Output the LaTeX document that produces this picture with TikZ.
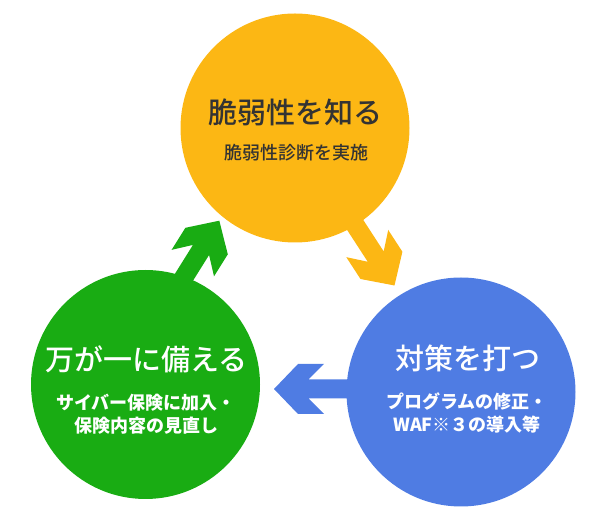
\documentclass[tikz,border=0pt]{standalone}
\usepackage{fontspec}
\newfontfamily\jpfont{Noto Sans CJK JP}
\newfontfamily\jpmed{Noto Sans CJK JP Medium}
\definecolor{knowcol}{HTML}{FCB714}
\definecolor{prepcol}{HTML}{19AC13}
\definecolor{fixcol}{HTML}{4F7CE3}
\definecolor{darktext}{HTML}{333333}
\newcommand{\cyclearrow}[4]{%
\fill[#1,shift={(#2)},rotate=#3] (0,0) -- (-24,25) -- (-50,25) -- (-34.5,9.5) -- (-#4,9.5)
	-- (-#4,-9.5) -- (-34.5,-9.5) -- (-50,-25) -- (-24,-25) -- cycle;}
\begin{document}
\begin{tikzpicture}[x=1pt,y=1pt,
	blob/.style={circle,minimum size=229pt,inner sep=0pt},
	ttl/.style={font=\jpmed\fontsize{29}{34}\selectfont,inner sep=0pt},
	sub/.style={font=\jpfont\bfseries\fontsize{18}{23}\selectfont,align=center,inner sep=0pt}]
\useasboundingbox (0,0) rectangle (600,516);
\coordinate (uptip) at (219.3,295.3);
\coordinate (downtip) at (394.5,230.5);
\coordinate (lefttip) at (274,127);
\cyclearrow{prepcol}{uptip}{58}{150}
\cyclearrow{knowcol}{downtip}{-57}{150}
\cyclearrow{fixcol}{lefttip}{180}{150}
\node [blob,fill=knowcol] (know) at (295,388) {};
\node [blob,fill=prepcol] (prep) at (145.5,131.5) {};
\node [blob,fill=fixcol] (fix) at (461,124) {};
\node [ttl,text=darktext] (knowttl) at (295,404) {脆弱性を知る};
\node [sub,text=darktext,font=\jpmed\fontsize{18}{23}\selectfont] (knowsub) at (296,363) {脆弱性診断を実施};
\node [ttl,text=white] (prepttl) at (146.5,157) {万が一に備える};
\node [sub,text=white] (prepsub) at (146,101.5) {サイバー保険に加入・\\保険内容の見直し};
\node [ttl,text=white] (fixttl) at (467.5,158) {対策を打つ};
\node [sub,text=white] (fixsub) at (467,103.5) {プログラムの修正・\\WAF※３の導入等};
\end{tikzpicture}
\end{document}
